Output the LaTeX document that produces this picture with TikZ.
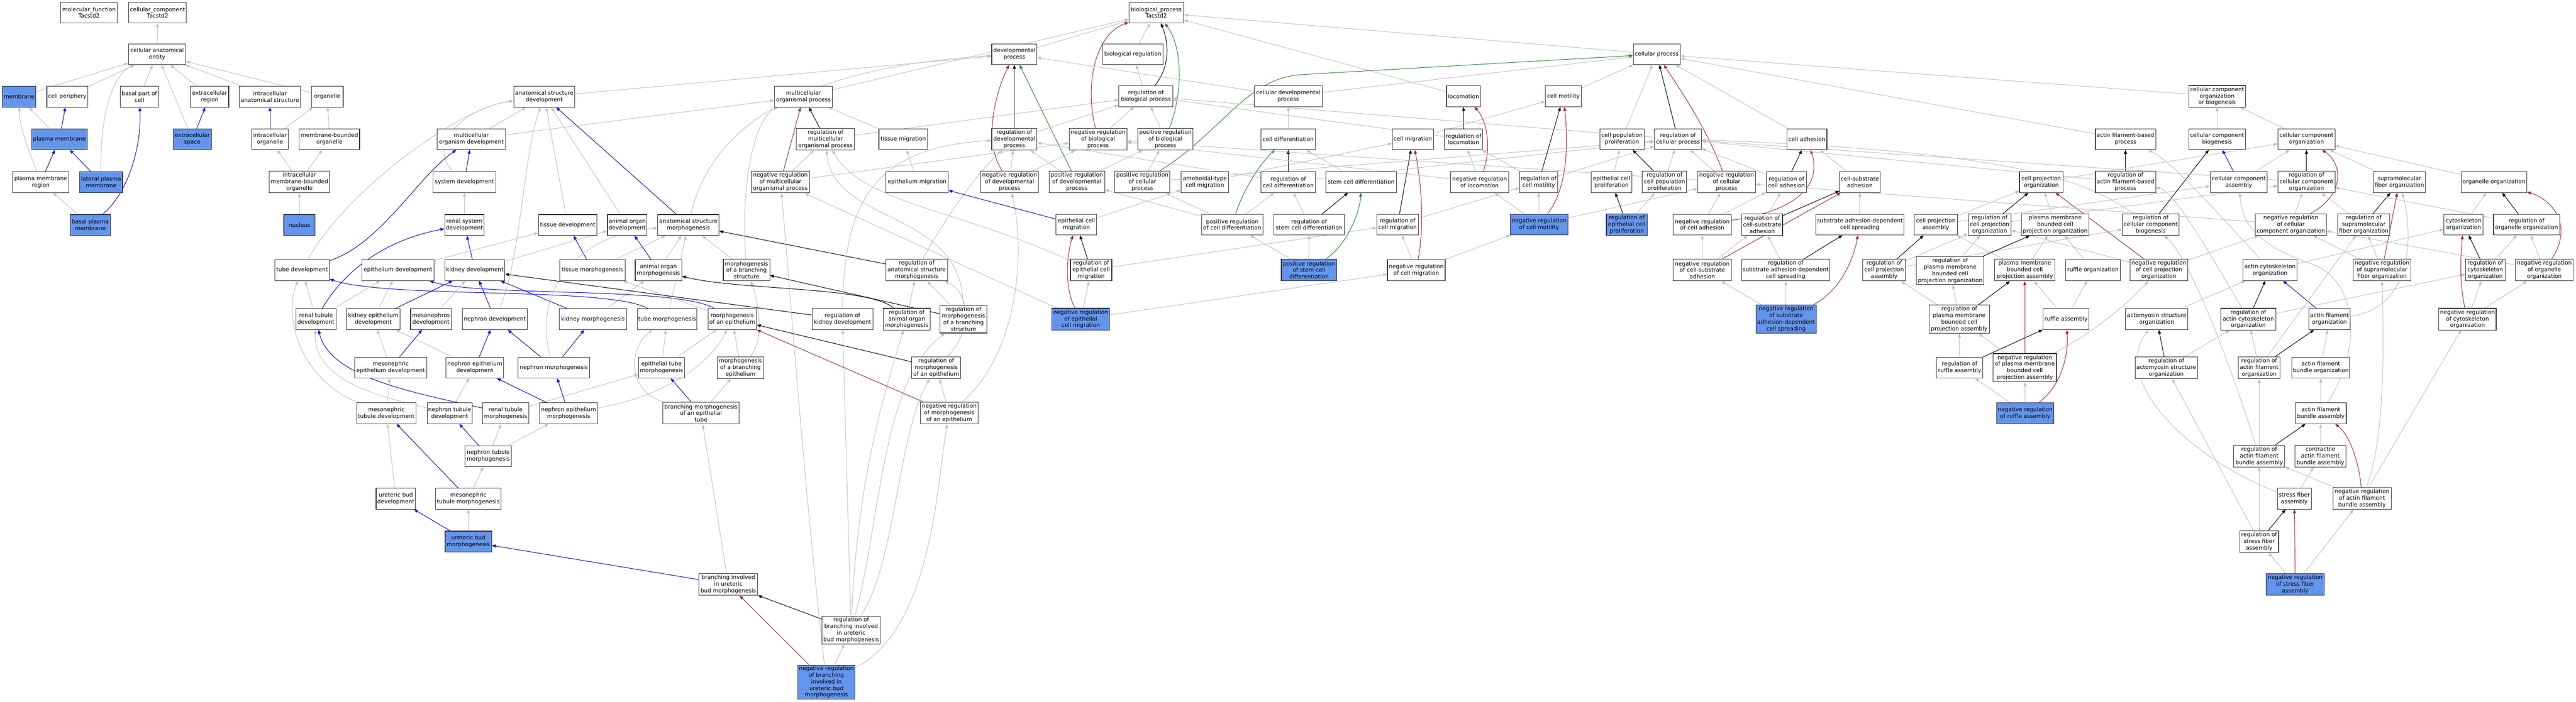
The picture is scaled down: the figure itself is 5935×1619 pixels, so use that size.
\documentclass[tikz,border=0pt]{standalone}
\usepackage{fontspec}
\setmainfont{DejaVu Sans}
\usetikzlibrary{arrows.meta}
\pgfdeclarelayer{background}
\pgfsetlayers{background,main}
\definecolor{cbl}{RGB}{100,149,237}
\definecolor{egray}{RGB}{192,192,192}
\definecolor{ered}{RGB}{178,34,34}
\definecolor{egreen}{RGB}{34,139,34}
\newcommand\nodefont{\fontsize{12.9pt}{15.3pt}\selectfont}
\newcommand\gn[7][]{\node[nd,#1,minimum width=#5pt,minimum height=#6pt] (#2) at (#3,#4) {#7};}
\newcommand\ed[3]{\draw[#1] (#2) -- (#3);}
\tikzset{
 nd/.style={draw=black!80,line width=1.3pt,fill=white,inner sep=0pt,align=center,font=\nodefont},
 ann/.style={fill=cbl},
 eG/.style={draw=egray,line width=1.2pt,-{Triangle[length=9pt,width=7pt]}},
 eB/.style={eG,draw=blue},
 eK/.style={eG,draw=black},
 eR/.style={eG,draw=ered},
 eN/.style={eG,draw=egreen},
}
\begin{document}
\begin{tikzpicture}[x=1pt,y=-1pt]
\useasboundingbox (0,0) rectangle (5935,1619);
% ---------- cellular component ----------
\gn{mf}{205}{29}{130}{48}{molecular\_function\\Tacstd2}
\gn{cc}{363}{29}{133}{48}{cellular\_component\\Tacstd2}
\gn{cae}{362}{125}{131}{48}{cellular anatomical\\entity}
\gn[ann]{mem}{44}{223}{78}{48}{membrane}
\gn{cper}{155}{223}{94}{48}{cell periphery}
\gn{bpc}{321}{223}{88}{48}{basal part of\\cell}
\gn{exr}{483}{223}{88}{48}{extracellular\\region}
\gn{ias}{622}{223}{141}{48}{intracellular\\anatomical structure}
\gn{org}{754}{223}{73}{48}{organelle}
\gn[ann]{pm}{137}{321}{129}{48}{plasma membrane}
\gn[ann]{exs}{443}{321}{88}{48}{extracellular\\space}
\gn{io}{622}{321}{84}{48}{intracellular\\organelle}
\gn{mbo}{759}{321}{139}{48}{membrane-bounded\\organelle}
\gn{pmr}{94}{420}{129}{48}{plasma membrane\\region}
\gn[ann]{lpm}{233}{420}{99}{48}{lateral plasma\\membrane}
\gn{imbo}{690}{420}{139}{50}{intracellular\\membrane-bounded\\organelle}
\gn[ann]{bpm}{208}{519}{93}{48}{basal plasma\\membrane}
\gn[ann]{nuc}{690}{519}{72}{48}{nucleus}
% ---------- development ----------
\gn{asd}{1254}{223}{141}{48}{anatomical structure\\development}
\gn{mop}{1851}{223}{133}{48}{multicellular\\organismal process}
\gn{mod}{1086}{321}{157}{48}{multicellular\\organism development}
\gn{romop}{1902}{321}{134}{50}{regulation of\\multicellular\\organismal process}
\gn{sysd}{1070}{420}{144}{48}{system development}
\gn{nromop}{1798}{420}{134}{50}{negative regulation\\of multicellular\\organismal process}
\gn{rsd}{1070}{519}{91}{48}{renal system\\development}
\gn{tisd}{1308}{519}{135}{48}{tissue development}
\gn{aod}{1445}{519}{91}{48}{animal organ\\development}
\gn{asm}{1586}{519}{141}{48}{anatomical structure\\morphogenesis}
\gn{tubed}{696}{623}{126}{48}{tube development}
\gn{epid}{917}{623}{166}{48}{epithelium development}
\gn{kidd}{1094}{623}{138}{48}{kidney development}
\gn{tism}{1365}{623}{150}{48}{tissue morphogenesis}
\gn{aom}{1517}{623}{107}{48}{animal organ\\morphogenesis}
\gn{mbs}{1720}{623}{107}{50}{morphogenesis\\of a branching\\structure}
\gn{rasm}{2112}{623}{142}{50}{regulation of\\anatomical structure\\morphogenesis}
\gn{rtd}{728}{736}{92}{48}{renal tubule\\development}
\gn{ked}{860}{736}{124}{48}{kidney epithelium\\development}
\gn{mesd}{993}{736}{94}{48}{mesonephros\\development}
\gn{nepd}{1140}{736}{149}{48}{nephron development}
\gn{kidm}{1366}{736}{155}{48}{kidney morphogenesis}
\gn{tubem}{1537}{736}{137}{48}{tube morphogenesis}
\gn{moe}{1687}{736}{112}{48}{morphogenesis\\of an epithelium}
\gn{rkd}{1941}{736}{140}{48}{regulation of\\kidney development}
\gn{raom}{2089}{736}{108}{50}{regulation of\\animal organ\\morphogenesis}
\gn{rmbs}{2220}{736}{108}{64}{regulation of\\morphogenesis\\of a branching\\structure}
\gn{mepd}{900}{848}{166}{48}{mesonephric\\epithelium development}
\gn{nepid}{1094}{848}{133}{48}{nephron epithelium\\development}
\gn{nepm}{1276}{848}{164}{48}{nephron morphogenesis}
\gn{etm}{1524}{848}{106}{48}{epithelial tube\\morphogenesis}
\gn{mbe}{1706}{848}{107}{50}{morphogenesis\\of a branching\\epithelium}
\gn{rmoe}{2157}{848}{113}{50}{regulation of\\morphogenesis\\of an epithelium}
\gn{mtd}{890}{953}{137}{48}{mesonephric\\tubule development}
\gn{ntd}{1036}{953}{103}{48}{nephron tubule\\development}
\gn{rtm}{1165}{953}{107}{48}{renal tubule\\morphogenesis}
\gn{nepim}{1310}{953}{133}{48}{nephron epithelium\\morphogenesis}
\gn{bmet}{1615}{953}{175}{50}{branching morphogenesis\\of an epithelial\\tube}
\gn{nrmoe}{2187}{953}{133}{50}{negative regulation\\of morphogenesis\\of an epithelium}
\gn{ntm}{1125}{1052}{107}{48}{nephron tubule\\morphogenesis}
\gn{ubd}{912}{1150}{91}{48}{ureteric bud\\development}
\gn{mtm}{1079}{1150}{151}{48}{mesonephric\\tubule morphogenesis}
\gn[ann]{ubm}{1079}{1249}{107}{48}{ureteric bud\\morphogenesis}
\gn{biubm}{1678}{1348}{135}{50}{branching involved\\in ureteric\\bud morphogenesis}
\gn{rbiubm}{1961}{1453}{134}{64}{regulation of\\branching involved\\in ureteric\\bud morphogenesis}
\gn[ann]{nrbiubm}{1904}{1573}{131}{78}{negative regulation\\of branching\\involved in\\ureteric bud\\morphogenesis}
% ---------- biological process ----------
\gn{bp}{2664}{29}{126}{48}{biological\_process\\Tacstd2}
\gn{devp}{2337}{125}{104}{48}{developmental\\process}
\gn{bioreg}{2610}{125}{139}{48}{biological regulation}
\gn{rbp}{2640}{222}{124}{48}{regulation of\\biological process}
\gn{cdp}{2968}{222}{156}{48}{cellular developmental\\process}
\gn{tism2}{2081}{321}{112}{48}{tissue migration}
\gn{rdp}{2337}{321}{104}{50}{regulation of\\developmental\\process}
\gn{nrbp}{2530}{321}{133}{50}{negative regulation\\of biological\\process}
\gn{prbp}{2685}{321}{128}{50}{positive regulation\\of biological\\process}
\gn{cd}{2968}{321}{125}{48}{cell differentiation}
\gn{epim}{2113}{420}{143}{48}{epithelium migration}
\gn{nrdp}{2326}{420}{133}{50}{negative regulation\\of developmental\\process}
\gn{prdp}{2481}{420}{128}{50}{positive regulation\\of developmental\\process}
\gn{prcp}{2632}{420}{127}{50}{positive regulation\\of cellular\\process}
\gn{amig}{2776}{420}{109}{48}{ameboidal-type\\cell migration}
\gn{rcd}{2968}{420}{125}{48}{regulation of\\cell differentiation}
\gn{ecm}{2480}{518}{94}{48}{epithelial cell\\migration}
\gn{prcd}{2839}{518}{141}{48}{positive regulation\\of cell differentiation}
\gn{rscd}{3016}{518}{163}{48}{regulation of\\stem cell differentiation}
\gn{recm}{2514}{623}{95}{50}{regulation of\\epithelial cell\\migration}
\gn[ann]{prscd}{3016}{623}{128}{50}{positive regulation\\of stem cell\\differentiation}
\gn[ann]{nrecm}{2490}{736}{133}{50}{negative regulation\\of epithelial\\cell migration}
\gn{cp}{3817}{125}{108}{48}{cellular process}
\gn{loc}{3372}{222}{78}{48}{locomotion}
\gn{cmot}{3602}{222}{83}{48}{cell motility}
\gn{cmig}{3255}{321}{95}{48}{cell migration}
\gn{rloc}{3372}{321}{88}{48}{regulation of\\locomotion}
\gn{cpp}{3737}{321}{102}{48}{cell population\\proliferation}
\gn{rcp}{3866}{321}{108}{48}{regulation of\\cellular process}
\gn{scd}{3136}{420}{162}{48}{stem cell differentiation}
\gn{nrloc}{3409}{420}{134}{48}{negative regulation\\of locomotion}
\gn{rcmot}{3545}{420}{88}{48}{regulation of\\cell motility}
\gn{ecp}{3713}{420}{94}{48}{epithelial cell\\proliferation}
\gn{rcpp}{3835}{420}{102}{50}{regulation of\\cell population\\proliferation}
\gn{nrcp}{3978}{420}{133}{50}{negative regulation\\of cellular\\process}
\gn{rcmig}{3220}{518}{96}{48}{regulation of\\cell migration}
\gn[ann]{nrcmot}{3546}{518}{133}{48}{negative regulation\\of cell motility}
\gn[ann]{recp}{3748}{518}{94}{50}{regulation of\\epithelial cell\\proliferation}
\gn{nrca}{3922}{518}{134}{48}{negative regulation\\of cell adhesion}
\gn{nrcmig}{3263}{623}{133}{48}{negative regulation\\of cell migration}
\gn{nrcsa}{3922}{623}{134}{50}{negative regulation\\of cell-substrate\\adhesion}
\gn{ca}{4163}{321}{92}{48}{cell adhesion}
\gn{afbp}{4897}{321}{139}{48}{actin filament-based\\process}
\gn{rca}{4116}{420}{93}{48}{regulation of\\cell adhesion}
\gn{csa}{4285}{420}{93}{48}{cell-substrate\\adhesion}
\gn{cpo}{4703}{420}{100}{48}{cell projection\\organization}
\gn{rafbp}{4897}{420}{139}{50}{regulation of\\actin filament-based\\process}
\gn{rcsa}{4060}{518}{94}{50}{regulation of\\cell-substrate\\adhesion}
\gn{sadcs}{4285}{518}{202}{48}{substrate adhesion-dependent\\cell spreading}
\gn{cpa}{4460}{518}{99}{48}{cell projection\\assembly}
\gn{rcpo}{4584}{518}{99}{50}{regulation of\\cell projection\\organization}
\gn{pmbcpo}{4735}{518}{155}{50}{plasma membrane\\bounded cell\\projection organization}
\gn{rccb}{4955}{518}{130}{50}{regulation of\\cellular component\\biogenesis}
\gn{rsadcs}{4114}{623}{203}{50}{regulation of\\substrate adhesion-dependent\\cell spreading}
\gn{rcpa}{4341}{623}{99}{50}{regulation of\\cell projection\\assembly}
\gn{rpmbcpo}{4493}{624}{156}{64}{regulation of\\plasma membrane\\bounded cell\\projection organization}
\gn{pmbcpa}{4665}{623}{139}{50}{plasma membrane\\bounded cell\\projection assembly}
\gn{ro}{4822}{623}{126}{48}{ruffle organization}
\gn{nrcpo}{4974}{623}{132}{50}{negative regulation\\of cell projection\\organization}
\gn[ann]{nrsadcs}{4115}{736}{139}{65}{negative regulation\\of substrate\\adhesion-dependent\\cell spreading}
\gn{rpmbcpa}{4514}{736}{139}{65}{regulation of\\plasma membrane\\bounded cell\\projection assembly}
\gn{ra}{4760}{736}{106}{48}{ruffle assembly}
\gn{aso}{4969}{736}{144}{48}{actomyosin structure\\organization}
\gn{rra}{4515}{848}{107}{48}{regulation of\\ruffle assembly}
\gn{nrpmbcpa}{4665}{848}{147}{65}{negative regulation\\of plasma membrane\\bounded cell\\projection assembly}
\gn{raso}{4991}{848}{144}{50}{regulation of\\actomyosin structure\\organization}
\gn[ann]{nrra}{4666}{953}{132}{48}{negative regulation\\of ruffle assembly}
\gn{ccob}{5108}{222}{131}{50}{cellular component\\organization\\or biogenesis}
\gn{ccb}{5108}{321}{131}{48}{cellular component\\biogenesis}
\gn{cco}{5314}{321}{131}{48}{cellular component\\organization}
\gn{cca}{5158}{420}{131}{48}{cellular component\\assembly}
\gn{rcco}{5314}{420}{131}{50}{regulation of\\cellular component\\organization}
\gn{sfo}{5528}{420}{120}{48}{supramolecular\\fiber organization}
\gn{oo}{5746}{420}{151}{48}{organelle organization}
\gn{nrcco}{5278}{518}{163}{50}{negative regulation\\of cellular\\component organization}
\gn{rsfo}{5446}{518}{120}{50}{regulation of\\supramolecular\\fiber organization}
\gn{co}{5676}{518}{90}{48}{cytoskeleton\\organization}
\gn{roo}{5821}{518}{152}{48}{regulation of\\organelle organization}
\gn{aco}{5230}{623}{125}{48}{actin cytoskeleton\\organization}
\gn{nrsfo}{5488}{623}{133}{50}{negative regulation\\of supramolecular\\fiber organization}
\gn{rco}{5726}{623}{91}{50}{regulation of\\cytoskeleton\\organization}
\gn{nroo}{5862}{623}{133}{50}{negative regulation\\of organelle\\organization}
\gn{raco}{5180}{736}{126}{50}{regulation of\\actin cytoskeleton\\organization}
\gn{afo}{5367}{736}{95}{48}{actin filament\\organization}
\gn{nrco}{5685}{736}{132}{50}{negative regulation\\of cytoskeleton\\organization}
\gn{rafo}{5205}{848}{96}{50}{regulation of\\actin filament\\organization}
\gn{afbo}{5347}{848}{133}{48}{actin filament\\bundle organization}
\gn{afba}{5347}{953}{117}{48}{actin filament\\bundle assembly}
\gn{rafba}{5205}{1052}{118}{50}{regulation of\\actin filament\\bundle assembly}
\gn{cafba}{5346}{1052}{118}{50}{contractile\\actin filament\\bundle assembly}
\gn{sfa}{5286}{1150}{78}{48}{stress fiber\\assembly}
\gn{nrafba}{5442}{1150}{134}{50}{negative regulation\\of actin filament\\bundle assembly}
\gn{rsfa}{5205}{1249}{90}{50}{regulation of\\stress fiber\\assembly}
\gn[ann]{nrsfa}{5288}{1348}{134}{50}{negative regulation\\of stress fiber\\assembly}
\begin{pgfonlayer}{background}
\fill[white] (0,0) rectangle (5935,1619);
% CC
\ed{eG}{cae}{cc}
\ed{eG}{mem}{cae}
\ed{eG}{cper}{cae}
\draw[eG] (lpm) .. controls (230,250) and (265,170) .. (cae);
\ed{eG}{bpc}{cae}
\ed{eG}{exs}{cae}
\ed{eG}{exr}{cae}
\ed{eG}{ias}{cae}
\ed{eG}{org}{cae}
\ed{eG}{pm}{mem}
\ed{eB}{pm}{cper}
\draw[eG] (pmr) .. controls (60,330) and (45,290) .. (mem);
\ed{eB}{pmr}{pm}
\ed{eB}{lpm}{pm}
\ed{eG}{bpm}{pmr}
\draw[eB] (bpm) .. controls (300,440) and (326,330) .. (bpc);
\ed{eB}{exs}{exr}
\ed{eB}{io}{ias}
\ed{eG}{io}{org}
\ed{eG}{mbo}{org}
\ed{eG}{imbo}{io}
\ed{eG}{imbo}{mbo}
\ed{eG}{nuc}{imbo}
% development
\ed{eG}{asd}{devp}
\ed{eB}{asm}{asd}
\draw[eG] (asm) .. controls (1630,330) and (1780,160) .. (devp);
\ed{eG}{mod}{asd}
\ed{eG}{mod}{mop}
\ed{eG}{mop}{bp}
\ed{eB}{sysd}{mod}
\draw[eG] (sysd) .. controls (985,340) and (1060,250) .. (asd);
\draw[eG] (tubed) .. controls (790,450) and (1050,250) .. (asd);
\draw[eB] (tubed) .. controls (880,560) and (960,410) .. (mod);
\ed{eG}{rsd}{sysd}
\ed{eB}{kidd}{rsd}
\ed{eG}{kidd}{aod}
\draw[eB] (rtd) .. controls (790,630) and (880,555) .. (rsd);
\ed{eG}{rtd}{tubed}
\ed{eG}{rtd}{epid}
\ed{eG}{epid}{tisd}
\ed{eG}{tisd}{asd}
\ed{eG}{aod}{asd}
\ed{eG}{tism}{asm}
\ed{eB}{tism}{tisd}
\ed{eG}{aom}{asm}
\ed{eB}{aom}{aod}
\ed{eG}{mbs}{asm}
\draw[eG] (mbs) .. controls (1705,420) and (1740,270) .. (mop);
\ed{eB}{nepd}{kidd}
\draw[eG] (nepd) .. controls (1200,600) and (1205,360) .. (asd);
\ed{eG}{mesd}{kidd}
\ed{eB}{ked}{kidd}
\ed{eG}{ked}{epid}
\ed{eB}{kidm}{kidd}
\ed{eG}{kidm}{aom}
\draw[eB] (tubem) .. controls (1400,660) and (900,690) .. (tubed);
\ed{eG}{tubem}{asm}
\draw[eB] (moe) .. controls (1560,660) and (1100,685) .. (epid);
\ed{eG}{moe}{tism}
\ed{eG}{mepd}{ked}
\ed{eB}{mepd}{mesd}
\ed{eB}{nepid}{nepd}
\ed{eG}{nepid}{ked}
\ed{eB}{nepm}{nepd}
\ed{eB}{nepm}{kidm}
\draw[eG] (nepm) .. controls (1230,700) and (1300,545) .. (asm);
\ed{eG}{etm}{tubem}
\ed{eG}{etm}{moe}
\ed{eG}{mbe}{moe}
\draw[eG] (mbe) .. controls (1765,780) and (1745,690) .. (mbs);
\ed{eB}{bmet}{etm}
\ed{eG}{bmet}{mbe}
\draw[eG] (bmet) .. controls (1440,900) and (1450,800) .. (tubem);
\draw[eG] (mtd) .. controls (700,880) and (650,740) .. (tubed);
\ed{eG}{mtd}{mepd}
\ed{eG}{ntd}{nepid}
\draw[eG] (ntd) .. controls (850,910) and (722,870) .. (rtd);
\ed{eG}{rtm}{etm}
\draw[eB] (rtm) .. controls (950,905) and (760,870) .. (rtd);
\ed{eB}{nepim}{nepid}
\ed{eB}{nepim}{nepm}
\draw[eG] (nepim) .. controls (1550,910) and (1640,830) .. (moe);
\ed{eB}{ntm}{ntd}
\ed{eG}{ntm}{rtm}
\ed{eG}{ntm}{nepim}
\ed{eG}{ubd}{mtd}
\ed{eB}{mtm}{mtd}
\ed{eG}{mtm}{ntm}
\ed{eB}{ubm}{ubd}
\ed{eG}{ubm}{mtm}
\ed{eB}{biubm}{ubm}
\ed{eG}{biubm}{bmet}
\ed{eK}{rbiubm}{biubm}
\ed{eG}{rbiubm}{rkd}
\draw[eG] (rbiubm) .. controls (1975,1100) and (2040,900) .. (raom);
\draw[eG] (rbiubm) .. controls (2030,1200) and (2030,880) .. (rmbs);
\draw[eG] (rbiubm) .. controls (2064,1300) and (2068,1000) .. (rmoe);
\ed{eG}{nrbiubm}{rbiubm}
\ed{eR}{nrbiubm}{biubm}
\draw[eG] (nrbiubm) .. controls (1850,1100) and (1815,600) .. (nromop);
\draw[eG] (nrbiubm) .. controls (2150,1450) and (2160,1100) .. (nrmoe);
\ed{eK}{romop}{mop}
\ed{eG}{romop}{rbp}
\ed{eG}{nromop}{romop}
\ed{eR}{nromop}{mop}
\ed{eG}{nromop}{nrbp}
\ed{eK}{rkd}{kidd}
\draw[eG] (rkd) .. controls (1945,480) and (2000,340) .. (rdp);
\draw[eK] (raom) .. controls (2000,660) and (1700,670) .. (aom);
\ed{eG}{raom}{rasm}
\ed{eK}{rmbs}{mbs}
\ed{eG}{rmbs}{rasm}
\draw[eG] (rmbs) .. controls (2215,480) and (1920,520) .. (romop);
\ed{eK}{rasm}{asm}
\draw[eG] (rasm) .. controls (2180,500) and (2250,400) .. (rdp);
\ed{eK}{rmoe}{moe}
\draw[eG] (rmoe) .. controls (2245,760) and (2230,670) .. (rasm);
\ed{eG}{nrmoe}{rmoe}
\ed{eR}{nrmoe}{moe}
\draw[eG] (nrmoe) .. controls (2340,820) and (2365,600) .. (nrdp);
% biological process
\ed{eG}{devp}{bp}
\ed{eG}{bioreg}{bp}
\ed{eG}{rbp}{bioreg}
\draw[eK] (rbp) .. controls (2700,150) and (2690,90) .. (bp);
\ed{eG}{nrbp}{rbp}
\draw[eR] (nrbp) .. controls (2500,200) and (2520,80) .. (bp);
\ed{eG}{prbp}{rbp}
\draw[eN] (prbp) .. controls (2730,200) and (2720,100) .. (bp);
\ed{eG}{cp}{bp}
\ed{eG}{loc}{bp}
\ed{eG}{cdp}{devp}
\ed{eG}{cdp}{cp}
\ed{eG}{cd}{cdp}
\ed{eK}{rdp}{devp}
\ed{eG}{rdp}{rbp}
\ed{eG}{nrdp}{rdp}
\draw[eR] (nrdp) .. controls (2260,320) and (2300,200) .. (devp);
\ed{eG}{nrdp}{nrbp}
\ed{eG}{prdp}{rdp}
\ed{eN}{prdp}{devp}
\ed{eG}{prdp}{prbp}
\ed{eG}{prcp}{rcp}
\ed{eG}{prcp}{prbp}
\draw[eN] (prcp) .. controls (2820,300) and (2870,180) .. (3000,172) -- (cp);
\ed{eG}{tism2}{mop}
\ed{eG}{epim}{tism2}
\ed{eB}{ecm}{epim}
\ed{eG}{ecm}{amig}
\ed{eG}{amig}{cmig}
\ed{eK}{recm}{ecm}
\ed{eG}{recm}{rcmig}
\draw[eG] (recm) .. controls (2200,480) and (1990,470) .. (romop);
\ed{eG}{nrecm}{recm}
\draw[eR] (nrecm) .. controls (2450,660) and (2460,580) .. (ecm);
\ed{eG}{nrecm}{nrcmig}
\ed{eG}{nrecm}{nromop}
\ed{eK}{rcd}{cd}
\ed{eG}{rcd}{rdp}
\ed{eG}{rcd}{rcp}
\ed{eG}{prcd}{rcd}
\draw[eN] (prcd) .. controls (2870,420) and (2920,360) .. (cd);
\ed{eG}{prcd}{prdp}
\ed{eG}{prcd}{prcp}
\ed{eG}{scd}{cd}
\ed{eK}{rscd}{scd}
\ed{eG}{rscd}{rcd}
\ed{eG}{prscd}{rscd}
\draw[eN] (prscd) .. controls (3110,560) and (3134,480) .. (scd);
\ed{eG}{prscd}{prcd}
\ed{eG}{cmig}{cmot}
\ed{eK}{rcmig}{cmig}
\ed{eG}{rcmig}{rcmot}
\ed{eG}{nrcmig}{rcmig}
\draw[eR] (nrcmig) .. controls (3285,500) and (3270,400) .. (cmig);
\ed{eG}{nrcmig}{nrcmot}
\ed{eG}{cmot}{cp}
\ed{eK}{rcmot}{cmot}
\ed{eG}{rcmot}{rloc}
\ed{eG}{rcmot}{rcp}
\ed{eG}{nrcmot}{rcmot}
\draw[eR] (nrcmot) .. controls (3615,430) and (3612,320) .. (cmot);
\ed{eG}{nrcmot}{nrloc}
\ed{eG}{nrcmot}{nrcp}
\ed{eK}{rloc}{loc}
\ed{eG}{rloc}{rbp}
\ed{eG}{nrloc}{rloc}
\draw[eR] (nrloc) .. controls (3440,330) and (3420,270) .. (loc);
\ed{eG}{nrloc}{nrbp}
\ed{eG}{cpp}{cp}
\ed{eK}{rcpp}{cpp}
\ed{eG}{rcpp}{rcp}
\ed{eG}{ecp}{cpp}
\ed{eK}{recp}{ecp}
\ed{eG}{recp}{rcpp}
\ed{eK}{rcp}{cp}
\ed{eG}{rcp}{rbp}
\ed{eG}{nrcp}{rcp}
\draw[eR] (nrcp) .. controls (3930,290) and (3860,190) .. (cp);
\ed{eG}{nrcp}{nrbp}
\ed{eG}{ca}{cp}
\ed{eK}{rca}{ca}
\ed{eG}{rca}{rcp}
\ed{eG}{nrca}{rca}
\draw[eR] (nrca) .. controls (4180,480) and (4190,400) .. (ca);
\ed{eG}{nrca}{nrcp}
\ed{eG}{csa}{ca}
\ed{eK}{rcsa}{csa}
\ed{eG}{rcsa}{rca}
\ed{eG}{nrcsa}{rcsa}
\ed{eR}{nrcsa}{csa}
\ed{eG}{nrcsa}{nrca}
\ed{eG}{sadcs}{csa}
\ed{eK}{rsadcs}{sadcs}
\ed{eG}{rsadcs}{rcsa}
\ed{eG}{nrsadcs}{rsadcs}
\draw[eR] (nrsadcs) .. controls (4240,670) and (4270,600) .. (sadcs);
\ed{eG}{nrsadcs}{nrcsa}
\ed{eG}{afbp}{cp}
\ed{eK}{rafbp}{afbp}
\ed{eG}{rafbp}{rcp}
\ed{eG}{ccob}{cp}
\ed{eG}{cpo}{cco}
\ed{eK}{rcpo}{cpo}
\ed{eG}{rcpo}{rcco}
\ed{eG}{pmbcpo}{cpo}
\ed{eG}{cpa}{cpo}
\ed{eG}{cpa}{cca}
\ed{eK}{rcpa}{cpa}
\ed{eG}{rcpa}{rcpo}
\ed{eG}{rcpa}{rccb}
\ed{eG}{rpmbcpo}{rcpo}
\ed{eK}{rpmbcpo}{pmbcpo}
\ed{eG}{pmbcpa}{cpa}
\ed{eG}{pmbcpa}{pmbcpo}
\ed{eG}{ro}{pmbcpo}
\ed{eG}{nrcpo}{rcpo}
\ed{eR}{nrcpo}{cpo}
\ed{eG}{nrcpo}{nrcco}
\ed{eG}{rpmbcpa}{rcpa}
\ed{eK}{rpmbcpa}{pmbcpa}
\ed{eG}{rpmbcpa}{rpmbcpo}
\ed{eG}{ra}{pmbcpa}
\ed{eG}{ra}{ro}
\ed{eG}{rra}{rpmbcpa}
\ed{eK}{rra}{ra}
\ed{eG}{nrpmbcpa}{rpmbcpa}
\ed{eR}{nrpmbcpa}{pmbcpa}
\draw[eG] (nrpmbcpa) .. controls (4840,760) and (4920,680) .. (nrcpo);
\ed{eG}{nrra}{rra}
\ed{eG}{nrra}{nrpmbcpa}
\draw[eR] (nrra) .. controls (4760,880) and (4765,800) .. (ra);
\ed{eK}{rccb}{ccb}
\draw[eG] (rccb) .. controls (4820,430) and (4700,350) .. (rcp);
\ed{eG}{cco}{ccob}
\ed{eG}{ccb}{ccob}
\ed{eB}{cca}{ccb}
\ed{eG}{cca}{cco}
\ed{eK}{rcco}{cco}
\ed{eG}{rcco}{rcp}
\ed{eG}{sfo}{cco}
\ed{eG}{oo}{cco}
\ed{eG}{nrcco}{rcco}
\draw[eR] (nrcco) .. controls (5400,450) and (5400,380) .. (cco);
\ed{eG}{nrcco}{nrcp}
\ed{eK}{rsfo}{sfo}
\ed{eG}{rsfo}{rcco}
\ed{eG}{co}{oo}
\ed{eK}{roo}{oo}
\ed{eG}{roo}{rcco}
\ed{eG}{aco}{co}
\draw[eG] (aco) .. controls (5100,480) and (5000,370) .. (afbp);
\ed{eG}{nrsfo}{rsfo}
\ed{eR}{nrsfo}{sfo}
\ed{eG}{nrsfo}{nrcco}
\ed{eK}{rco}{co}
\ed{eG}{rco}{roo}
\ed{eG}{nroo}{roo}
\draw[eR] (nroo) .. controls (5930,520) and (5880,460) .. (oo);
\ed{eG}{nroo}{nrcco}
\ed{eK}{raco}{aco}
\ed{eG}{raco}{rco}
\draw[eG] (raco) .. controls (5100,600) and (5010,440) .. (rafbp);
\ed{eB}{afo}{aco}
\draw[eG] (afo) .. controls (5560,710) and (5560,540) .. (sfo);
\ed{eG}{nrco}{rco}
\draw[eR] (nrco) .. controls (5665,650) and (5670,580) .. (co);
\ed{eG}{nrco}{nroo}
\ed{eK}{rafo}{afo}
\ed{eG}{rafo}{raco}
\ed{eG}{rafo}{rsfo}
\ed{eG}{afbo}{afo}
\ed{eG}{afba}{afbo}
\draw[eG] (afba) .. controls (5445,800) and (5430,650) .. (5330,610) .. controls (5180,560) and (5165,500) .. (cca);
\ed{eK}{rafba}{afba}
\ed{eG}{rafba}{rafo}
\draw[eG] (rafba) .. controls (5110,750) and (5030,580) .. (rccb);
\ed{eG}{cafba}{afba}
\ed{eG}{sfa}{cafba}
\draw[eG] (sfa) .. controls (5050,1060) and (4860,880) .. (aso);
\ed{eG}{nrafba}{rafba}
\draw[eR] (nrafba) .. controls (5435,1060) and (5410,1000) .. (afba);
\ed{eG}{nrafba}{nrco}
\draw[eG] (nrafba) .. controls (5500,1000) and (5490,750) .. (nrsfo);
\ed{eK}{rsfa}{sfa}
\ed{eG}{rsfa}{rafba}
\ed{eG}{rsfa}{raso}
\ed{eG}{nrsfa}{rsfa}
\ed{eR}{nrsfa}{sfa}
\ed{eG}{nrsfa}{nrafba}
\ed{eG}{aso}{aco}
\ed{eK}{raso}{aso}
\ed{eG}{raso}{raco}
\end{pgfonlayer}
\end{tikzpicture}
\end{document}
